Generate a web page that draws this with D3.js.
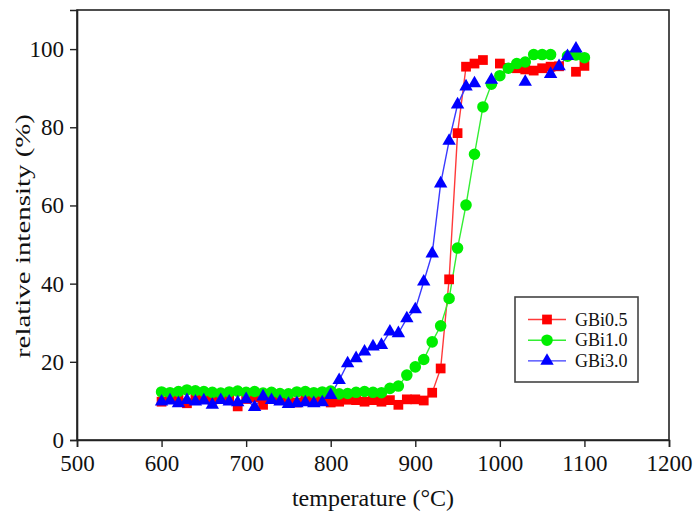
<!DOCTYPE html>
<html>
<head>
<meta charset="utf-8">
<script src="https://cdn.jsdelivr.net/npm/d3@7"></script>
<style>
  body { margin: 0; background: #fff; }
  svg { display: block; }
  text { font-family: "Liberation Serif", "DejaVu Serif", serif; fill: #111; }
</style>
</head>
<body>
<svg id="chart" width="699" height="515"></svg>
<script>
// ---------- data ----------
const temperatures = [600,610,620,630,640,650,660,670,680,690,700,710,720,730,740,750,760,770,780,790,800,
  810,820,830,840,850,860,870,880,890,900,910,920,930,940,950,960,970,980,990,1000,
  1010,1020,1030,1040,1050,1060,1070,1080,1090,1100];

const gbi05 = [9.8,10.8,10.5,9.4,10.6,10.9,10.3,10.6,10.8,8.6,10.5,10.9,9.0,10.6,10.8,10.2,9.6,10.4,10.7,10.0,9.6,
  9.8,10.3,10.2,9.8,10.2,9.8,10.2,9.0,10.4,10.4,10.1,12.1,18.3,41.1,78.5,95.5,96.3,97.2,null,96.3,
  95.2,95.1,94.8,94.5,95.1,95.5,95.6,null,94.2,95.7];

const gbi10 = [12.3,12.1,12.4,12.8,12.6,12.4,12.2,12.0,12.3,12.5,12.2,12.4,12.0,12.2,11.9,11.8,12.3,12.4,12.1,12.3,12.5,
  11.8,11.9,12.2,12.4,12.2,12.1,13.2,13.8,16.6,18.7,20.6,25.1,29.2,36.2,49.1,60.1,73.1,85.2,91.0,93.2,
  95.1,96.3,96.7,98.6,98.6,98.6,null,98.2,98.5,97.8];

const gbi30 = [9.8,10.1,9.4,10.2,9.8,10.1,9.0,10.2,9.8,9.6,10.4,8.4,11.1,10.2,9.8,9.2,9.4,9.6,9.4,9.6,11.5,
  15.3,19.6,20.9,22.6,23.9,24.3,27.7,27.3,31.1,33.4,40.5,47.7,65.6,76.5,85.8,90.4,91.2,null,92.1,null,
  null,null,91.6,null,null,93.6,95.6,98.2,100.1,null];

const xTicks = [500,600,700,800,900,1000,1100,1200];
const yTicks = [0,20,40,60,80,100];

const seriesList = [
  { name: "GBi0.5", values: gbi05, color: "#ff0000", line: "#ff3a3a", shape: d3.symbolSquare, size: 95 },
  { name: "GBi1.0", values: gbi10, color: "#00ee00", line: "#33ee33", shape: d3.symbolCircle, size: 105 },
  { name: "GBi3.0", values: gbi30, color: "#0000ff", line: "#3a3aff", shape: d3.symbolTriangle, size: 78 }
];

// ---------- layout ----------
const W = 699, H = 515;
const margin = { left: 77, top: 10, right: 30, bottom: 75 };
const svg = d3.select("#chart");

const x = d3.scaleLinear().domain([500, 1200]).range([margin.left, W - margin.right]);
const y = d3.scaleLinear().domain([0, 110]).range([H - margin.bottom, margin.top]);

// frame
svg.append("rect")
  .attr("x", x(500)).attr("y", y(110))
  .attr("width", x(1200) - x(500)).attr("height", y(0) - y(110))
  .attr("fill", "none").attr("stroke", "#222").attr("stroke-width", 1.6);

// axes
const xAxis = svg.append("g")
  .attr("transform", `translate(0,${y(0)})`)
  .call(d3.axisBottom(x).tickValues(xTicks).tickSize(7).tickPadding(8).tickFormat(d3.format("d")));
const yAxis = svg.append("g")
  .attr("transform", `translate(${x(500)},0)`)
  .call(d3.axisLeft(y).tickValues(yTicks).tickSize(7).tickPadding(6).tickFormat(d3.format("d")));

[xAxis, yAxis].forEach(g => {
  g.select(".domain").attr("stroke", "#222").attr("stroke-width", 1.6);
  g.selectAll(".tick line").attr("stroke", "#222").attr("stroke-width", 1.4);
  g.selectAll(".tick text")
    .attr("font-family", '"Liberation Serif", serif')
    .attr("font-size", 23).attr("fill", "#111");
});

// axis titles
svg.append("text")
  .attr("x", (x(500) + x(1200)) / 2).attr("y", 506)
  .attr("text-anchor", "middle").attr("font-size", 24)
  .text("temperature (°C)");
svg.append("text")
  .attr("transform", `translate(30,${236}) rotate(-90)`)
  .attr("text-anchor", "middle").attr("font-size", 21)
  .attr("textLength", 244).attr("lengthAdjust", "spacingAndGlyphs")
  .text("relative intensity (%)");

// series
const points = s => temperatures.map((t, i) => ({ t, v: s.values[i] }));
const line = d3.line()
  .defined(d => d.v !== null)
  .x(d => x(d.t)).y(d => y(d.v));

seriesList.forEach(s => {
  svg.append("path")
    .datum(points(s))
    .attr("d", line)
    .attr("fill", "none")
    .attr("stroke", s.line)
    .attr("stroke-width", 1.4);
});
seriesList.forEach(s => {
  const sym = d3.symbol().type(s.shape).size(s.size);
  svg.append("g").selectAll("path")
    .data(points(s).filter(d => d.v !== null))
    .join("path")
    .attr("transform", d => `translate(${x(d.t)},${y(d.v)})`)
    .attr("d", sym)
    .attr("fill", s.color);
});

// legend
const lg = svg.append("g");
lg.append("rect")
  .attr("x", 515).attr("y", 297).attr("width", 123).attr("height", 85)
  .attr("fill", "#fff").attr("stroke", "#444").attr("stroke-width", 1.6);
seriesList.forEach((s, i) => {
  const cy = 319.5 + i * 20.7;
  lg.append("line")
    .attr("x1", 528).attr("x2", 566).attr("y1", cy).attr("y2", cy)
    .attr("stroke", s.line).attr("stroke-width", 1.4);
  lg.append("path")
    .attr("transform", `translate(547,${cy})`)
    .attr("d", d3.symbol().type(s.shape).size(s.size))
    .attr("fill", s.color);
  lg.append("text")
    .attr("x", 575).attr("y", cy + 6)
    .attr("font-size", 18)
    .text(s.name);
});
</script>
</body>
</html>
